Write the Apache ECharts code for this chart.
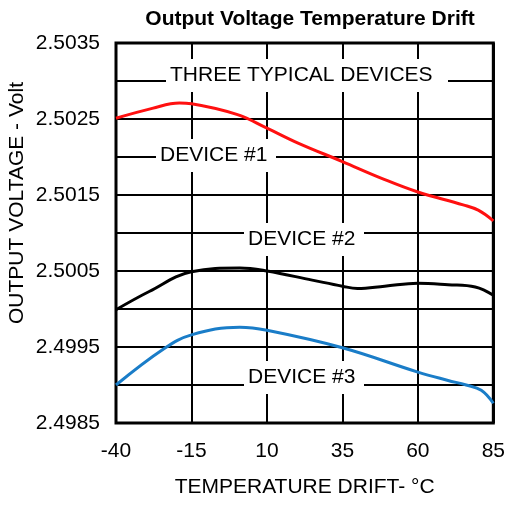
<!DOCTYPE html>
<html>
<head>
<meta charset="utf-8">
<script src="https://cdn.jsdelivr.net/npm/echarts@6/dist/echarts.min.js"></script>
<style>
  html, body { margin: 0; padding: 0; background: #fff; }
  #main { width: 508px; height: 513px; }
</style>
</head>
<body>
<div id="main"></div>
<script>
  // temperatures (°C) and output voltages (V)
  var device1Temp = [-40, -28, -19, -15, 0, 10, 20.5, 35, 48, 60, 75, 80, 85];
  var device1Volt = [2.50251, 2.50264, 2.50271, 2.50270, 2.50256, 2.50238, 2.50218, 2.50194, 2.50172, 2.50154, 2.50137, 2.50130, 2.50116];

  var device2Temp = [-40, -29, -15, 1, 10, 25, 35, 40, 49, 60, 70, 79, 85];
  var device2Volt = [2.49999, 2.50023, 2.50049, 2.50054, 2.50050, 2.50038, 2.50030, 2.50027, 2.50030, 2.50034, 2.50032, 2.50029, 2.50018];

  var device3Temp = [-40, -24, -15, 1, 10, 35, 60, 70, 76, 81, 85];
  var device3Volt = [2.49900, 2.49948, 2.49966, 2.49976, 2.49972, 2.49949, 2.49917, 2.49906, 2.49900, 2.49893, 2.49876];

  var xTicks = {min: -40, max: 85, step: 25};
  var yTicks = {min: 2.4985, max: 2.5035, step: 0.0005};

  function pairs(xs, ys) {
    return xs.map(function (x, i) { return [x, ys[i]]; });
  }

  var font = 'Arial, "Liberation Sans", sans-serif';

  function note(text, x, y, w) {
    return {
      type: 'text',
      left: x, top: y,
      z: 50,
      style: {
        text: text,
        font: '21px ' + font,
        fill: '#000',
        backgroundColor: '#fff',
        width: w,
        align: 'center',
        padding: [6, 4, 6, 4]
      }
    };
  }

  var chart = echarts.init(document.getElementById('main'));
  chart.setOption({
    animation: false,
    backgroundColor: '#fff',
    title: {
      text: 'Output Voltage Temperature Drift',
      left: 305, top: 4,
      textAlign: 'center',
      textStyle: {fontFamily: font, fontSize: 21, fontWeight: 'bold', color: '#000'}
    },
    grid: {
      left: 116, top: 43, width: 380, height: 380,
      show: true, borderColor: '#000', borderWidth: 3,
      containLabel: false
    },
    xAxis: {
      type: 'value',
      min: xTicks.min, max: xTicks.max, interval: xTicks.step,
      name: 'TEMPERATURE DRIFT- °C',
      nameLocation: 'middle', nameGap: 54,
      nameTextStyle: {fontFamily: font, fontSize: 21, color: '#000'},
      axisLine: {show: false},
      axisTick: {show: false},
      axisLabel: {margin: 18, fontFamily: font, fontSize: 21, color: '#000'},
      splitLine: {show: true, lineStyle: {color: '#000', width: 2}}
    },
    yAxis: {
      type: 'value',
      min: yTicks.min, max: yTicks.max, interval: yTicks.step,
      axisLine: {show: false},
      axisTick: {show: false},
      axisLabel: {
        margin: 16, fontFamily: font, fontSize: 21, color: '#000',
        formatter: function (v) {
          return Math.round(v * 10000) % 10 === 5 ? v.toFixed(4) : '';
        }
      },
      splitLine: {show: true, lineStyle: {color: '#000', width: 2}}
    },
    graphic: [
      {
        type: 'text',
        x: 17, y: 203,
        rotation: Math.PI / 2,
        style: {
          text: 'OUTPUT VOLTAGE - Volt',
          font: '21px ' + font,
          fill: '#000',
          align: 'center',
          verticalAlign: 'middle'
        }
      },
      note('THREE TYPICAL DEVICES', 166, 59, 274),
      note('DEVICE #1', 156, 139, 112),
      note('DEVICE #2', 244, 223, 112),
      note('DEVICE #3', 244, 361, 112)
    ],
    series: [
      {
        name: 'DEVICE #1', type: 'line', smooth: 0.4, showSymbol: false, z: 10,
        lineStyle: {color: '#ff1010', width: 3},
        data: pairs(device1Temp, device1Volt)
      },
      {
        name: 'DEVICE #2', type: 'line', smooth: 0.4, showSymbol: false, z: 10,
        lineStyle: {color: '#000', width: 3},
        data: pairs(device2Temp, device2Volt)
      },
      {
        name: 'DEVICE #3', type: 'line', smooth: 0.4, showSymbol: false, z: 10,
        lineStyle: {color: '#1a7dc8', width: 3},
        data: pairs(device3Temp, device3Volt)
      }
    ]
  });
</script>
</body>
</html>
